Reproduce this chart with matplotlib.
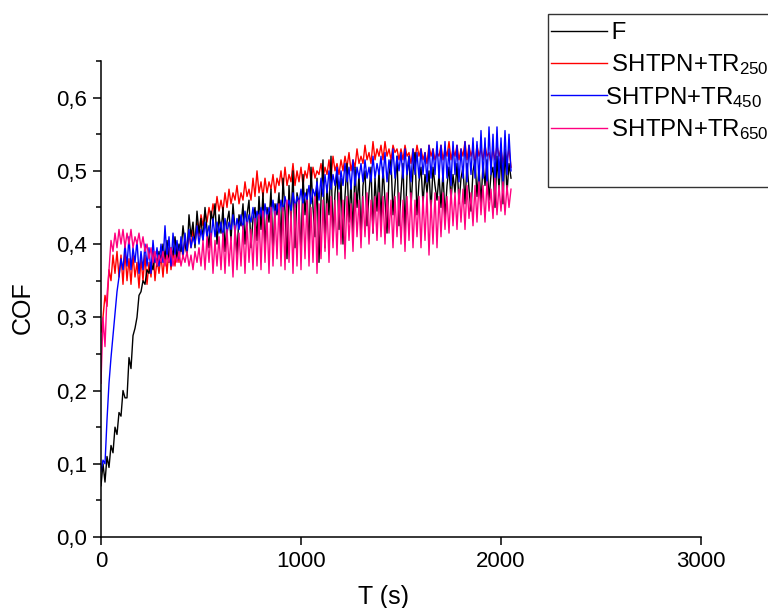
import numpy as np
import matplotlib
matplotlib.use("Agg")
import matplotlib.pyplot as plt
from matplotlib.patches import Rectangle
from matplotlib.ticker import FixedLocator, MultipleLocator

plt.rcParams['font.family'] = ['Liberation Sans', 'DejaVu Sans']
plt.rcParams['mathtext.default'] = 'regular'

# Sliding time, one reading every 10 s
time_s = np.arange(0, 2060, 10)

cof_F = [
    0.070, 0.100, 0.075, 0.110, 0.095, 0.125, 0.115, 0.150, 0.140, 0.170,
    0.165, 0.200, 0.190, 0.190, 0.245, 0.230, 0.275, 0.285, 0.300, 0.330,
    0.335, 0.350, 0.345, 0.365, 0.360, 0.375, 0.365, 0.385, 0.370, 0.390,
    0.375, 0.400, 0.380, 0.405, 0.375, 0.395, 0.385, 0.410, 0.380, 0.400,
    0.390, 0.425, 0.400, 0.385, 0.440, 0.410, 0.430, 0.395, 0.445, 0.415,
    0.435, 0.405, 0.450, 0.420, 0.395, 0.445, 0.430, 0.455, 0.400, 0.440,
    0.415, 0.450, 0.390, 0.430, 0.445, 0.405, 0.455, 0.420, 0.385, 0.440,
    0.425, 0.455, 0.400, 0.440, 0.460, 0.395, 0.435, 0.450, 0.405, 0.465,
    0.420, 0.470, 0.395, 0.450, 0.430, 0.475, 0.385, 0.455, 0.440, 0.470,
    0.400, 0.490, 0.445, 0.380, 0.480, 0.430, 0.500, 0.395, 0.470, 0.455,
    0.385, 0.495, 0.440, 0.475, 0.390, 0.505, 0.450, 0.410, 0.490, 0.375,
    0.460, 0.515, 0.395, 0.480, 0.440, 0.520, 0.405, 0.470, 0.500, 0.420,
    0.490, 0.400, 0.465, 0.510, 0.430, 0.485, 0.415, 0.505, 0.450, 0.495,
    0.410, 0.480, 0.500, 0.425, 0.470, 0.505, 0.415, 0.490, 0.445, 0.500,
    0.430, 0.505, 0.460, 0.415, 0.495, 0.515, 0.440, 0.480, 0.520, 0.425,
    0.470, 0.510, 0.415, 0.495, 0.520, 0.450, 0.500, 0.525, 0.440, 0.485,
    0.505, 0.455, 0.495, 0.470, 0.500, 0.445, 0.505, 0.480, 0.460, 0.495,
    0.450, 0.500, 0.435, 0.480, 0.505, 0.460, 0.495, 0.470, 0.510, 0.455,
    0.490, 0.505, 0.455, 0.510, 0.475, 0.445, 0.500, 0.515, 0.465, 0.505,
    0.455, 0.510, 0.480, 0.515, 0.460, 0.495, 0.505, 0.450, 0.520, 0.475,
    0.525, 0.455, 0.530, 0.470, 0.510, 0.490,
]

cof_tr250 = [
    0.280, 0.300, 0.330, 0.315, 0.365, 0.350, 0.385, 0.360, 0.390, 0.355,
    0.385, 0.345, 0.390, 0.350, 0.380, 0.345, 0.385, 0.355, 0.375, 0.340,
    0.380, 0.350, 0.385, 0.345, 0.375, 0.355, 0.390, 0.350, 0.380, 0.360,
    0.385, 0.355, 0.390, 0.360, 0.395, 0.365, 0.390, 0.370, 0.400, 0.375,
    0.405, 0.380, 0.410, 0.385, 0.415, 0.395, 0.420, 0.400, 0.430, 0.410,
    0.440, 0.425, 0.445, 0.430, 0.450, 0.435, 0.455, 0.440, 0.465, 0.445,
    0.460, 0.445, 0.470, 0.450, 0.475, 0.455, 0.470, 0.460, 0.480, 0.455,
    0.470, 0.460, 0.485, 0.465, 0.475, 0.460, 0.490, 0.465, 0.500, 0.470,
    0.485, 0.465, 0.490, 0.470, 0.485, 0.475, 0.495, 0.470, 0.490, 0.480,
    0.500, 0.475, 0.505, 0.480, 0.495, 0.485, 0.510, 0.480, 0.500, 0.485,
    0.505, 0.480, 0.500, 0.490, 0.510, 0.485, 0.505, 0.490, 0.500, 0.495,
    0.510, 0.490, 0.505, 0.495, 0.515, 0.490, 0.520, 0.500, 0.510, 0.495,
    0.515, 0.500, 0.520, 0.505, 0.525, 0.500, 0.515, 0.505, 0.530, 0.510,
    0.520, 0.510, 0.535, 0.515, 0.525, 0.510, 0.540, 0.515, 0.530, 0.520,
    0.535, 0.515, 0.540, 0.520, 0.530, 0.515, 0.535, 0.525, 0.530, 0.515,
    0.530, 0.515, 0.535, 0.520, 0.525, 0.510, 0.530, 0.515, 0.535, 0.520,
    0.530, 0.515, 0.525, 0.510, 0.535, 0.520, 0.530, 0.515, 0.525, 0.520,
    0.535, 0.515, 0.530, 0.520, 0.540, 0.515, 0.530, 0.520, 0.535, 0.515,
    0.530, 0.520, 0.540, 0.515, 0.535, 0.520, 0.530, 0.510, 0.535, 0.520,
    0.530, 0.515, 0.535, 0.520, 0.525, 0.510, 0.530, 0.515, 0.535, 0.520,
    0.530, 0.510, 0.525, 0.515, 0.530, 0.505,
]

cof_tr450 = [
    0.090, 0.105, 0.100, 0.160, 0.210, 0.245, 0.275, 0.305, 0.335, 0.355,
    0.380, 0.365, 0.400, 0.370, 0.410, 0.365, 0.395, 0.375, 0.405, 0.360,
    0.390, 0.365, 0.400, 0.370, 0.395, 0.360, 0.405, 0.375, 0.395, 0.370,
    0.400, 0.375, 0.425, 0.380, 0.410, 0.370, 0.415, 0.385, 0.405, 0.380,
    0.410, 0.385, 0.415, 0.390, 0.420, 0.395, 0.410, 0.400, 0.425, 0.400,
    0.420, 0.405, 0.430, 0.410, 0.425, 0.405, 0.435, 0.410, 0.430, 0.415,
    0.430, 0.410, 0.435, 0.415, 0.430, 0.420, 0.440, 0.415, 0.435, 0.420,
    0.440, 0.420, 0.445, 0.425, 0.440, 0.430, 0.450, 0.425, 0.445, 0.435,
    0.450, 0.430, 0.455, 0.435, 0.450, 0.440, 0.460, 0.435, 0.455, 0.440,
    0.460, 0.445, 0.465, 0.450, 0.460, 0.445, 0.470, 0.450, 0.465, 0.455,
    0.475, 0.455, 0.470, 0.460, 0.480, 0.455, 0.475, 0.465, 0.485, 0.460,
    0.490, 0.465, 0.495, 0.470, 0.500, 0.475, 0.495, 0.480, 0.505, 0.475,
    0.500, 0.480, 0.510, 0.485, 0.505, 0.475, 0.515, 0.480, 0.505, 0.490,
    0.510, 0.485, 0.515, 0.490, 0.505, 0.485, 0.520, 0.490, 0.510, 0.495,
    0.520, 0.490, 0.525, 0.485, 0.515, 0.495, 0.530, 0.490, 0.520, 0.500,
    0.525, 0.490, 0.530, 0.495, 0.520, 0.485, 0.530, 0.495, 0.525, 0.490,
    0.530, 0.495, 0.525, 0.485, 0.535, 0.490, 0.530, 0.495, 0.540, 0.490,
    0.535, 0.485, 0.540, 0.490, 0.530, 0.480, 0.540, 0.495, 0.535, 0.485,
    0.530, 0.490, 0.540, 0.485, 0.535, 0.495, 0.545, 0.490, 0.540, 0.485,
    0.555, 0.490, 0.545, 0.480, 0.560, 0.495, 0.550, 0.485, 0.560, 0.490,
    0.545, 0.485, 0.555, 0.495, 0.550, 0.500,
]

cof_tr650 = [
    0.210, 0.300, 0.260, 0.330, 0.365, 0.405, 0.390, 0.415, 0.395, 0.420,
    0.400, 0.420, 0.395, 0.415, 0.400, 0.420, 0.395, 0.410, 0.400, 0.415,
    0.395, 0.410, 0.390, 0.400, 0.380, 0.395, 0.375, 0.390, 0.370, 0.385,
    0.375, 0.390, 0.370, 0.385, 0.375, 0.395, 0.370, 0.385, 0.375, 0.390,
    0.370, 0.385, 0.375, 0.390, 0.370, 0.385, 0.365, 0.390, 0.375, 0.395,
    0.370, 0.405, 0.365, 0.410, 0.375, 0.415, 0.360, 0.405, 0.370, 0.410,
    0.365, 0.415, 0.360, 0.420, 0.370, 0.410, 0.355, 0.425, 0.365, 0.415,
    0.370, 0.425, 0.360, 0.430, 0.375, 0.420, 0.365, 0.435, 0.370, 0.440,
    0.365, 0.445, 0.375, 0.440, 0.360, 0.450, 0.370, 0.445, 0.380, 0.455,
    0.370, 0.450, 0.365, 0.460, 0.375, 0.445, 0.360, 0.455, 0.370, 0.460,
    0.365, 0.455, 0.380, 0.460, 0.370, 0.450, 0.375, 0.465, 0.360, 0.455,
    0.380, 0.460, 0.390, 0.455, 0.375, 0.465, 0.395, 0.460, 0.385, 0.470,
    0.400, 0.460, 0.380, 0.465, 0.405, 0.455, 0.390, 0.470, 0.410, 0.460,
    0.395, 0.465, 0.410, 0.470, 0.400, 0.460, 0.415, 0.465, 0.405, 0.470,
    0.410, 0.465, 0.400, 0.470, 0.415, 0.460, 0.395, 0.465, 0.410, 0.470,
    0.400, 0.460, 0.390, 0.465, 0.405, 0.470, 0.395, 0.460, 0.410, 0.465,
    0.395, 0.465, 0.405, 0.470, 0.385, 0.460, 0.400, 0.470, 0.395, 0.465,
    0.410, 0.470, 0.420, 0.465, 0.415, 0.475, 0.425, 0.470, 0.420, 0.475,
    0.430, 0.475, 0.420, 0.480, 0.435, 0.470, 0.425, 0.480, 0.430, 0.485,
    0.440, 0.480, 0.430, 0.485, 0.445, 0.475, 0.435, 0.490, 0.440, 0.480,
    0.445, 0.485, 0.440, 0.480, 0.450, 0.475,
]

series_labels = [" F", " SHTPN+TR$_{250}$", "SHTPN+TR$_{450}$", " SHTPN+TR$_{650}$"]
series_colors = ["#000000", "#FF0000", "#0000FF", "#FF0080"]

x_ticks = [0, 1000, 2000, 3000]
y_ticks = [0.0, 0.1, 0.2, 0.3, 0.4, 0.5, 0.6]
y_tick_labels = ["0,0", "0,1", "0,2", "0,3", "0,4", "0,5", "0,6"]

fig = plt.figure(figsize=(7.68, 6.08), dpi=100)
ax = fig.add_axes([101 / 768, 71 / 608, 600 / 768, 476 / 608])

data = [cof_F, cof_tr250, cof_tr450, cof_tr650]
handles = [None] * 4
# stacking: 250 at the back, 650 in front
for idx in [1, 0, 2, 3]:
    (ln,) = ax.plot(time_s, data[idx], color=series_colors[idx], lw=1.0)
    handles[idx] = ln

ax.set_xlim(0, 3000)
ax.set_ylim(0, 0.65)
ax.xaxis.set_major_locator(FixedLocator(x_ticks))
ax.yaxis.set_major_locator(FixedLocator(y_ticks))
ax.set_yticklabels(y_tick_labels)
ax.yaxis.set_minor_locator(MultipleLocator(0.05))

for s in ["top", "right"]:
    ax.spines[s].set_visible(False)
for s in ["left", "bottom"]:
    ax.spines[s].set_linewidth(1.1)

ax.tick_params(axis="both", which="major", direction="out", length=6, width=1.1,
               labelsize=16, pad=4)
ax.tick_params(axis="y", which="minor", direction="out", length=3.5, width=1.1)
ax.tick_params(axis="x", which="minor", length=0)

ax.set_xlabel("T (s)", fontsize=18)
ax.xaxis.set_label_coords((383 - 101) / 600, (537 - 585) / 476)
ax.set_ylabel("COF", fontsize=18)
ax.yaxis.set_label_coords((35 - 101) / 600, (537 - 308) / 476)

leg = ax.legend(handles, series_labels, loc="upper left",
                bbox_to_anchor=(551 / 768, 1 - 22 / 608), bbox_transform=fig.transFigure,
                frameon=False, fontsize=17.3, handlelength=2.35, handletextpad=-0.12,
                labelspacing=0.33, borderpad=0.0, borderaxespad=0.0)
for lh in leg.get_lines():
    lh.set_linewidth(1.0)

fig.add_artist(Rectangle((548 / 768, 1 - 187 / 608), 230 / 768, 173 / 608,
                         transform=fig.transFigure, fill=False,
                         edgecolor="#333333", lw=1.0))

fig.savefig("out.png", dpi=100)
